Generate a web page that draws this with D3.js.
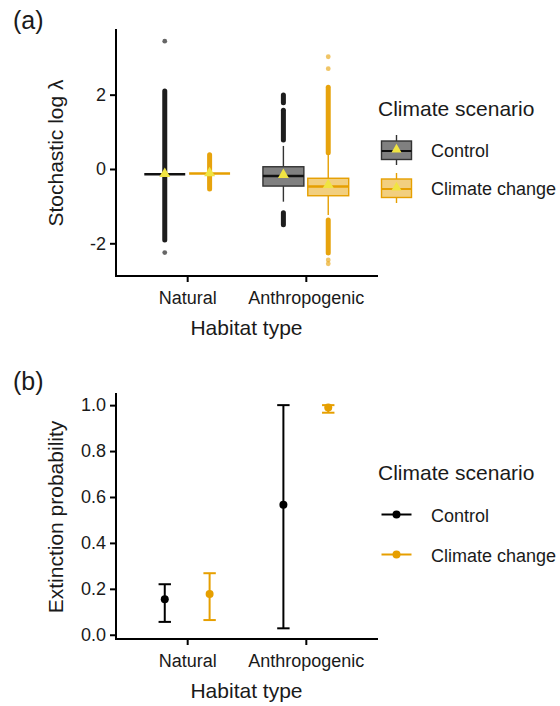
<!DOCTYPE html>
<html>
<head>
<meta charset="utf-8">
<script src="https://cdn.jsdelivr.net/npm/d3@7"></script>
<style>
  html, body { margin: 0; padding: 0; background: #fff; }
  svg { display: block; font-family: "Liberation Sans", Arial, Helvetica, sans-serif; }
</style>
</head>
<body>
<svg id="chart" width="560" height="706"></svg>
<script>
// ---------------- DATA ----------------
const habitats = ["Natural", "Anthropogenic"];
const scenarios = ["Control", "Climate change"];
const scenarioColors = ["#000000", "#E69F00"];
const boxFills = ["#808080", "#F2CF7F"];
const boxStrokes = ["#333333", "#E69F00"];
const meanColor = "#F0E442";

// Panel (a): boxplot summaries of stochastic log lambda
const boxHabitat = ["Natural", "Natural", "Anthropogenic", "Anthropogenic"];
const boxScenario = ["Control", "Climate change", "Control", "Climate change"];
const whiskerLow = [-0.14, -0.12, -0.88, -1.24];
const q1 = [-0.14, -0.12, -0.46, -0.72];
const median = [-0.14, -0.12, -0.19, -0.47];
const q3 = [-0.14, -0.12, 0.06, -0.25];
const whiskerHigh = [-0.14, -0.12, 0.62, 0.40];
const meanVal = [-0.13, -0.11, -0.16, -0.43];

// dense runs of overlapping outliers (box index, from, to)
const outlierRunBox = [0, 1, 2, 2, 2, 3, 3];
const outlierRunFrom = [-1.91, -0.54, 0.78, 1.78, -1.50, 0.44, -2.26];
const outlierRunTo = [2.10, 0.38, 1.58, 1.99, -1.18, 2.20, -1.37];
// isolated outliers
const outlierBox = [0, 0, 3, 3, 3, 3];
const outlierValue = [3.44, -2.25, 3.02, 2.70, -2.45, -2.55];

const yTicksA = [-2, 0, 2];
const yTickLabelsA = ["-2", "0", "2"];

// Panel (b): extinction probability
const extHabitat = ["Natural", "Natural", "Anthropogenic", "Anthropogenic"];
const extScenario = ["Control", "Climate change", "Control", "Climate change"];
const extMean = [0.155, 0.177, 0.566, 0.990];
const extLow = [0.056, 0.064, 0.028, 0.967];
const extHigh = [0.220, 0.268, 1.000, 1.000];

const yTicksB = [0, 0.2, 0.4, 0.6, 0.8, 1.0];
const yTickLabelsB = ["0.0", "0.2", "0.4", "0.6", "0.8", "1.0"];

// ---------------- LAYOUT ----------------
const svg = d3.select("#chart");
svg.append("rect").attr("width", 560).attr("height", 706).attr("fill", "#fff");

const left = 116, right = 377;
const x = d3.scaleLinear().domain([0.4, 2.6]).range([left, right]);
const habIndex = h => habitats.indexOf(h) + 1;
const dodge = 0.189;   // in category units
const boxW = 0.345;
const xPos = (h, s) => x(habIndex(h) + (scenarios.indexOf(s) === 0 ? -dodge : dodge));
const bw = x(1 + boxW) - x(1);
const col = s => scenarioColors[scenarios.indexOf(s)];

const tickFont = 18, titleFont = 21;
const textCol = "#1a1a1a";

function drawAxes(g, y, top, bottom, ticks, labels, ytitle, titleY) {
  const ya = d3.axisLeft(y).tickValues(ticks).tickFormat((d, i) => labels[i])
    .tickSize(6).tickSizeOuter(0).tickPadding(4);
  const yg = g.append("g").attr("transform", `translate(${left},0)`).call(ya);
  yg.select(".domain").remove();
  yg.selectAll(".tick line").attr("stroke", "#000").attr("stroke-width", 2);
  yg.selectAll(".tick text").attr("font-size", tickFont).attr("fill", textCol)
    .attr("font-family", "'Liberation Sans', Arial, sans-serif");
  const xa = d3.axisBottom(x).tickValues([1, 2]).tickFormat(d => habitats[d - 1])
    .tickSize(6).tickSizeOuter(0).tickPadding(9);
  const xg = g.append("g").attr("transform", `translate(0,${bottom})`).call(xa);
  xg.select(".domain").remove();
  xg.selectAll(".tick line").attr("stroke", "#000").attr("stroke-width", 2);
  xg.selectAll(".tick text").attr("font-size", tickFont).attr("fill", textCol)
    .attr("font-family", "'Liberation Sans', Arial, sans-serif");
  g.append("path")
    .attr("d", `M${left},${top}V${bottom}H${right}`)
    .attr("fill", "none").attr("stroke", "#000").attr("stroke-width", 2)
    .attr("stroke-linecap", "square");
  g.append("text").attr("x", (left + right) / 2).attr("y", bottom + 59)
    .attr("text-anchor", "middle").attr("font-size", titleFont).attr("fill", textCol)
    .text("Habitat type");
  g.append("text")
    .attr("transform", `translate(63,${titleY}) rotate(-90)`)
    .attr("text-anchor", "middle").attr("font-size", titleFont).attr("fill", textCol)
    .text(ytitle);
}

// ---------------- PANEL (a) ----------------
const topA = 30, bottomA = 276;
const yA = d3.scaleLinear().domain([-2.88, 3.74]).range([bottomA, topA]);
const gA = svg.append("g");

svg.append("text").attr("x", 13).attr("y", 29).attr("font-size", 25).attr("fill", textCol).text("(a)");

const boxes = boxHabitat.map((h, i) => ({
  h, s: boxScenario[i], lo: whiskerLow[i], q1: q1[i], med: median[i], q3: q3[i],
  hi: whiskerHigh[i], mean: meanVal[i], si: scenarios.indexOf(boxScenario[i])
}));

const runs = outlierRunBox.map((b, i) => ({ b, from: outlierRunFrom[i], to: outlierRunTo[i] }));
gA.selectAll(".run").data(runs).enter().append("line")
  .attr("x1", d => xPos(boxes[d.b].h, boxes[d.b].s))
  .attr("x2", d => xPos(boxes[d.b].h, boxes[d.b].s))
  .attr("y1", d => yA(d.from)).attr("y2", d => yA(d.to))
  .attr("stroke", d => boxes[d.b].si === 0 ? "#111" : "#E69F00")
  .attr("stroke-width", 5).attr("stroke-linecap", "round").attr("opacity", 0.95);

const pts = outlierBox.map((b, i) => ({ b, v: outlierValue[i] }));
gA.selectAll(".pt").data(pts).enter().append("circle")
  .attr("cx", d => xPos(boxes[d.b].h, boxes[d.b].s))
  .attr("cy", d => yA(d.v)).attr("r", 2.4)
  .attr("fill", d => boxes[d.b].si === 0 ? "#000" : "#E69F00").attr("opacity", 0.6);

boxes.forEach(d => {
  const cx = xPos(d.h, d.s);
  const st = boxStrokes[d.si];
  if (d.hi > d.q3) gA.append("line").attr("x1", cx).attr("x2", cx).attr("y1", yA(d.q3)).attr("y2", yA(d.hi))
    .attr("stroke", st).attr("stroke-width", 1.4);
  if (d.lo < d.q1) gA.append("line").attr("x1", cx).attr("x2", cx).attr("y1", yA(d.q1)).attr("y2", yA(d.lo))
    .attr("stroke", st).attr("stroke-width", 1.4);
  if (d.q3 > d.q1) {
    gA.append("rect").attr("x", cx - bw / 2).attr("y", yA(d.q3))
      .attr("width", bw).attr("height", yA(d.q1) - yA(d.q3))
      .attr("fill", boxFills[d.si]).attr("stroke", st).attr("stroke-width", 1.4);
  }
  gA.append("line").attr("x1", cx - bw / 2).attr("x2", cx + bw / 2)
    .attr("y1", yA(d.med)).attr("y2", yA(d.med))
    .attr("stroke", d.si === 0 ? "#111" : "#E69F00").attr("stroke-width", 2.6);
  gA.append("path").attr("d", d3.symbol(d3.symbolTriangle, 52)())
    .attr("transform", `translate(${cx},${yA(d.mean)})`).attr("fill", meanColor);
});

drawAxes(gA, yA, topA, bottomA, yTicksA, yTickLabelsA, "Stochastic log λ", 153);

const legA = svg.append("g");
legA.append("text").attr("x", 378).attr("y", 116).attr("font-size", titleFont).attr("fill", textCol).text("Climate scenario");
scenarios.forEach((s, i) => {
  const cy = 151 + i * 38, cx = 396.5;
  legA.append("line").attr("x1", cx).attr("x2", cx).attr("y1", cy - 16).attr("y2", cy + 14)
    .attr("stroke", boxStrokes[i]).attr("stroke-width", 1.4);
  legA.append("rect").attr("x", cx - 15).attr("y", cy - 10).attr("width", 30).attr("height", 18.5)
    .attr("fill", boxFills[i]).attr("stroke", boxStrokes[i]).attr("stroke-width", 1.4);
  legA.append("line").attr("x1", cx - 15).attr("x2", cx + 15).attr("y1", cy).attr("y2", cy)
    .attr("stroke", i === 0 ? "#111" : "#E69F00").attr("stroke-width", 2);
  legA.append("path").attr("d", d3.symbol(d3.symbolTriangle, 44)())
    .attr("transform", `translate(${cx},${cy - 1.5})`).attr("fill", meanColor);
  legA.append("text").attr("x", 431).attr("y", cy).attr("dy", "0.35em")
    .attr("font-size", tickFont).attr("fill", textCol).text(s);
});

// ---------------- PANEL (b) ----------------
const topB = 394, bottomB = 639;
const yB = d3.scaleLinear().domain([-0.0185, 1.0485]).range([bottomB, topB]);
const gB = svg.append("g");
svg.append("text").attr("x", 13).attr("y", 390).attr("font-size", 25).attr("fill", textCol).text("(b)");

const ext = extHabitat.map((h, i) => ({ h, s: extScenario[i], m: extMean[i], lo: extLow[i], hi: extHigh[i] }));
const capW = 12.4;
ext.forEach(d => {
  const cx = xPos(d.h, d.s), c = col(d.s);
  gB.append("line").attr("x1", cx).attr("x2", cx).attr("y1", yB(d.lo)).attr("y2", yB(d.hi))
    .attr("stroke", c).attr("stroke-width", 2);
  [d.lo, d.hi].forEach(v => gB.append("line").attr("x1", cx - capW / 2).attr("x2", cx + capW / 2)
    .attr("y1", yB(v)).attr("y2", yB(v)).attr("stroke", c).attr("stroke-width", 2));
  gB.append("circle").attr("cx", cx).attr("cy", yB(d.m)).attr("r", 4).attr("fill", c);
});

drawAxes(gB, yB, topB, bottomB, yTicksB, yTickLabelsB, "Extinction probability", 517);

const legB = svg.append("g");
legB.append("text").attr("x", 378).attr("y", 480).attr("font-size", titleFont).attr("fill", textCol).text("Climate scenario");
scenarios.forEach((s, i) => {
  const cy = 514.5 + i * 40;
  legB.append("line").attr("x1", 381.5).attr("x2", 411.5).attr("y1", cy).attr("y2", cy)
    .attr("stroke", scenarioColors[i]).attr("stroke-width", 2);
  legB.append("circle").attr("cx", 396.5).attr("cy", cy).attr("r", 4).attr("fill", scenarioColors[i]);
  legB.append("text").attr("x", 431).attr("y", cy + 1.5).attr("dy", "0.35em")
    .attr("font-size", tickFont).attr("fill", textCol).text(s);
});
</script>
</body>
</html>
